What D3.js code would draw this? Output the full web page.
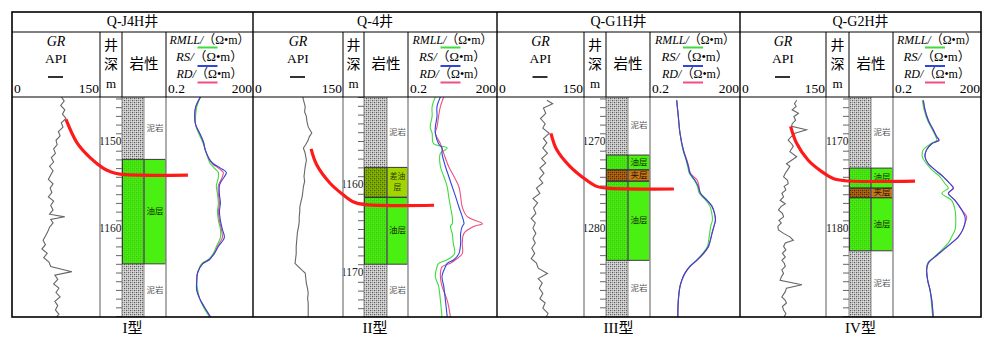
<!DOCTYPE html>
<html><head><meta charset="utf-8">
<script src="https://cdn.jsdelivr.net/npm/d3@7"></script>
<style>body{margin:0;background:#fff}svg{display:block}</style>
</head><body><svg id="c" width="1000" height="356"></svg>
<script>
// ---------------- DATA ----------------
const wellNames = ["Q-J4H井", "Q-4井", "Q-G1H井", "Q-G2H井"];
const typeLabels = ["I型", "II型", "III型", "IV型"];
const grDomain = [0, 150];
const resDomain = [0.2, 200];
const depthRanges = [[1144.83, 1170.11], [1150, 1175], [1264.83, 1290.11], [1164.83, 1190.11]];
const depthLabelTicks = [[1150, 1160], [1160, 1170], [1270, 1280], [1170, 1180]];

// GR curves (API)
const gr1Depth = [1144.8,1145.3,1145.8,1146.3,1146.8,1147.3,1147.8,1148.3,1148.8,1149.3,1149.8,1150.3,1150.8,1151.3,1151.8,1152.3,1152.8,1153.3,1153.8,1154.3,1154.8,1155.3,1155.8,1156.3,1156.8,1157.3,1157.8,1158.3,1158.6,1158.9,1159.3,1159.8,1160.3,1160.8,1161.3,1161.8,1162.3,1162.8,1163.3,1163.8,1164.3,1164.9,1165.3,1165.8,1166.3,1166.8,1167.3,1167.8,1168.3,1168.8,1169.3,1169.8,1170.1];
const gr1Value = [84,89,83,90,86,92,84,87,79,82,75,77,71,74,67,71,64,70,66,62,70,65,68,62,71,66,70,64,90,66,70,64,61,57,53,57,51,60,54,63,66,102,73,78,71,80,75,82,73,78,74,80,76];
const gr2Depth = [1150.0,1150.3,1151.1,1151.7,1152.2,1152.8,1153.4,1154.1,1154.5,1154.9,1155.4,1155.8,1156.4,1157.2,1157.9,1158.5,1159.0,1159.6,1160.2,1160.8,1161.3,1161.9,1162.5,1163.0,1163.6,1164.2,1164.7,1165.4,1166.2,1167.0,1167.8,1168.4,1168.9,1169.3,1169.7,1170.0,1170.6,1171.2,1171.8,1172.3,1172.9,1173.4,1174.2,1175.0];
const gr2Value = [83,84,87,86,89,90,92,98,94,92,88,84,87,89,87,86,85,86,84,83,82,80,78,78,77,77,76,74,73,72,72,71,70,76,82,87,88,89,91,92,91,92,92,92];
const gr3Depth = [1265.2,1265.6,1266.1,1266.7,1267.3,1267.9,1268.4,1269.0,1269.6,1270.1,1270.7,1271.3,1271.9,1272.4,1273.0,1273.6,1274.2,1274.7,1275.3,1275.9,1276.5,1277.0,1277.6,1278.2,1278.8,1279.3,1279.9,1280.5,1281.1,1281.6,1282.2,1282.8,1283.4,1283.9,1284.5,1285.1,1285.7,1286.2,1286.8,1287.4,1288.0,1288.5,1289.1,1289.7,1290.1];
const gr3Value = [86,96,80,84,75,83,79,90,80,86,79,87,77,84,74,81,73,79,68,74,62,70,63,67,59,66,62,67,62,66,60,65,59,68,71,87,71,78,73,79,74,83,79,88,85];
const gr4Depth = [1165.2,1165.6,1165.9,1166.3,1166.7,1167.1,1167.5,1167.9,1168.2,1168.6,1169.0,1169.4,1169.8,1170.2,1170.5,1171.1,1171.7,1172.1,1172.5,1172.8,1173.2,1173.6,1174.0,1174.4,1174.8,1175.1,1175.5,1175.9,1176.3,1176.7,1177.1,1177.4,1177.8,1178.2,1178.6,1179.0,1179.3,1179.7,1180.1,1180.5,1180.9,1181.3,1181.6,1182.0,1182.4,1182.8,1183.2,1183.6,1183.9,1184.3,1184.7,1185.1,1185.5,1185.9,1186.4,1186.8,1187.2,1187.8,1188.2,1188.5,1188.9,1189.3,1189.7,1190.1];
const gr4Value = [99,95,98,91,102,94,97,91,90,116,96,89,84,90,93,87,99,90,81,87,83,79,76,83,84,77,80,73,76,70,79,72,67,74,76,68,72,66,67,76,87,93,79,76,80,74,79,73,77,79,73,76,72,70,108,81,79,73,79,81,74,76,80,77];

// Resistivity curves (Ω·m)
const res1Depth = [1144.8,1146,1147,1148,1149,1150,1151,1152,1152.5,1153,1153.5,1154,1154.5,1155,1156,1157,1158,1159,1160,1161,1162,1162.8,1163.5,1164,1165,1166,1167,1168,1169,1170.1];
const rmll1 = [3.1,2.29,2.1,2.1,2.66,3.65,4.6,5.8,6.8,9.3,12.8,12.8,11.9,10.9,11.9,12.8,11.9,12.8,15,15,10.9,8.6,5.8,3.37,2.47,2.29,2.47,2.9,3.94,6.3];
const rs1 = [3.1,2.1,1.95,2.1,2.9,3.9,4.6,6.3,8.6,15,24,20.5,16.2,13.9,13.9,15,13.9,15,17.5,20.5,12.8,9.3,6.3,3.65,2.47,2.29,2.29,2.9,4.26,6.8];
const rd1 = [3.1,2.1,1.95,2.1,2.9,3.9,4.6,6.3,8.0,12.8,18.9,17.5,15,12.8,12.8,13.9,12.8,13.9,16.2,17.5,11.9,9.3,6.3,3.65,2.47,2.29,2.29,2.9,4.26,6.8];
const res2Depth = [1150.0,1151.1,1152.2,1153.4,1154.1,1155.3,1155.8,1156.4,1157.9,1159,1160.2,1161.3,1162.5,1163.6,1164.4,1164.7,1165.5,1166.6,1167.8,1168.5,1168.9,1169.3,1170.4,1171.5,1173.1,1175];
const rmll2 = [1.67,1.3,1.3,1.12,1.3,1.46,4.2,2.47,2.47,3.2,4.2,4.7,5.4,6.2,6.2,5.4,6.2,6.7,7.4,4.2,2.15,1.9,1.67,2.15,2.47,2.8];
const rs2 = [2.47,1.9,1.9,1.67,1.67,2.15,2.8,2.8,3.65,4.7,6.2,8.0,10.4,13.5,15.4,13.5,11.9,11.9,10.4,7.0,4.2,3.65,2.8,3.2,3.65,4.2];
const rd2 = [3.2,2.47,2.15,1.9,1.67,2.47,2.8,3.2,4.7,7.0,10.4,11.9,13.5,20,65,33.7,15.4,13.5,13.5,8.0,5.4,2.8,2.47,2.8,4.2,5.4];
const res3Depth = [1265.2,1267.1,1269.0,1270.9,1272.1,1272.8,1273.6,1274.4,1275.1,1275.9,1276.7,1277.4,1278.2,1279.0,1279.7,1280.5,1281.3,1282.0,1282.8,1283.6,1284.3,1285.1,1285.9,1286.6,1288.2,1290.1];
const rmll3 = [1.55,1.76,2.0,2.5,3.2,3.6,4.1,6.0,7.6,8.8,14.5,20,23,24,21,19.5,18,16.5,11.5,7.0,4.2,2.9,2.3,2.0,1.76,1.7];
const rs3 = [1.55,1.76,2.0,2.58,3.3,3.78,4.3,6.3,8.1,9.6,16,23.5,28.5,30.5,27,23.5,20.5,17.6,12,7.2,4.3,2.9,2.28,2.0,1.76,1.68];
const rd3 = [1.55,1.76,2.0,2.6,3.4,3.9,4.5,7.5,8.6,9.6,16,23,28,30,27,23,20.5,18,12.5,7.4,4.4,2.9,2.3,2.0,1.76,1.68];
const res4Depth = [1165.2,1166.3,1167.5,1168.6,1169.4,1169.8,1170.2,1170.9,1171.7,1172.5,1173.2,1174.0,1174.8,1175.3,1175.9,1176.7,1177.8,1178.6,1179.3,1180.1,1180.9,1181.6,1182.4,1183.2,1183.9,1184.7,1185.9,1187.0,1188.2,1190.1];
const rmll4 = [2.0,2.3,3.0,4.4,5.8,6.2,3.9,2.16,2.0,2.8,4.2,8.0,11.9,15.4,9.2,20,26,27.5,27.5,26,20,15.4,9.2,5.1,3.05,2.8,3.05,3.65,4.0,4.5];
const rs4 = [2.16,2.47,3.2,4.7,6.2,7.4,4.2,2.8,2.47,3.2,5.4,10.4,17.6,22.7,15.4,26,44,57,57,47.5,33.7,20,10.4,5.4,3.2,2.8,3.05,3.65,4.2,4.7];
const rd4 = [2.16,2.47,3.2,4.7,6.2,7.4,4.2,2.8,2.47,3.2,5.4,10.4,17.6,23,15.4,26,44,65,57,47.5,33.7,20,10.4,5.4,3.2,2.8,3.05,3.65,4.2,4.7];

// Lithology intervals (m)
const lith1Top = [1144.83,1152,1164], lith1Base = [1152,1164,1170.11], lith1Name = ["泥岩","油层","泥岩"];
const lith2Top = [1150,1158,1161.4,1169], lith2Base = [1158,1161.4,1169,1175], lith2Name = ["泥岩","差油层","油层","泥岩"];
const lith3Top = [1264.83,1271.5,1273.2,1274.5,1283.6], lith3Base = [1271.5,1273.2,1274.5,1283.6,1290.11], lith3Name = ["泥岩","油层","夹层","油层","泥岩"];
const lith4Top = [1164.83,1173,1175.3,1176.4,1182.5], lith4Base = [1173,1175.3,1176.4,1182.5,1190.11], lith4Name = ["泥岩","油层","夹层","油层","泥岩"];

// Horizontal-well trajectory (fraction across panel, depth m)
const traj1Frac = [0.224,0.27,0.324,0.378,0.407,0.448,0.73], traj1Depth = [1147.4,1150.1,1151.8,1153.0,1153.4,1153.7,1153.8];
const traj2Frac = [0.238,0.261,0.316,0.369,0.41,0.451,0.742], traj2Depth = [1155.9,1157.7,1159.8,1161.1,1161.9,1162.2,1162.3];
const traj3Frac = [0.222,0.246,0.3,0.369,0.41,0.451,0.728], traj3Depth = [1269.0,1270.9,1272.8,1274.4,1275.1,1275.3,1275.4];
const traj4Frac = [0.21,0.235,0.283,0.339,0.387,0.436,0.726], traj4Depth = [1168.2,1170.15,1172.1,1173.4,1174.2,1174.45,1174.5];

// ---------------- LAYOUT / STYLE ----------------
const layout = [
  {left:12, right:253, gr:[12,100], dep:[100,122], strip:[122,144], txt:[144,166], res:[166,253]},
  {left:253, right:497, gr:[253,343], dep:[343,364], strip:[364,387], txt:[387,408], res:[408,497]},
  {left:497, right:740, gr:[497,584], dep:[584,606], strip:[606,628], txt:[628,650], res:[650,740]},
  {left:740, right:981, gr:[740,826], dep:[826,849], strip:[849,871], txt:[871,893], res:[893,981]}
];
const TOP = 12, TITLE_B = 32, HEAD_B = 97, BOT = 317;
const SERIF = "'Liberation Serif','Noto Sans CJK SC','DejaVu Serif',serif";
const CJK = "'Noto Sans CJK SC','Noto Sans CJK JP',sans-serif";
const C_RMLL = "#3ddc3d", C_RS = "#2f45dd", C_RD = "#ee4f7f", C_GR = "#666";

const wells = [
  {gr:[gr1Depth,gr1Value], res:[res1Depth,rmll1,rs1,rd1], lith:[lith1Top,lith1Base,lith1Name], traj:[traj1Frac,traj1Depth]},
  {gr:[gr2Depth,gr2Value], res:[res2Depth,rmll2,rs2,rd2], lith:[lith2Top,lith2Base,lith2Name], traj:[traj2Frac,traj2Depth]},
  {gr:[gr3Depth,gr3Value], res:[res3Depth,rmll3,rs3,rd3], lith:[lith3Top,lith3Base,lith3Name], traj:[traj3Frac,traj3Depth]},
  {gr:[gr4Depth,gr4Value], res:[res4Depth,rmll4,rs4,rd4], lith:[lith4Top,lith4Base,lith4Name], traj:[traj4Frac,traj4Depth]}
];

const svg = d3.select("#c");
const defs = svg.append("defs");
function pattern(id, bg, d1, d2) {
  const p = defs.append("pattern").attr("id", id).attr("width", 4).attr("height", 4).attr("patternUnits", "userSpaceOnUse");
  p.append("rect").attr("width", 4).attr("height", 4).attr("fill", bg);
  [[0,0,d1],[2,2,d1],[2,0,d2],[0,2,d2]].forEach(([x,y,c]) => p.append("rect").attr("x",x).attr("y",y).attr("width",1.3).attr("height",1.3).attr("fill",c));
}
pattern("pMud", "#e6e6e6", "#5a5a5a", "#8e8e8e");
pattern("pOil", "#4aee14", "#38c808", "#40d80c");
pattern("pPoor", "#8abc00", "#44600a", "#648a00");
pattern("pJia", "#bb6c12", "#4a2600", "#7a4206");

const lithStyle = {
  "泥岩": {pat:"url(#pMud)", fill:"#ffffff", box:false, color:"#555", lines:["泥岩"], size:8.5},
  "油层": {pat:"url(#pOil)", fill:"#4af012", box:true, color:"#173000", lines:["油层"], size:8.5},
  "差油层": {pat:"url(#pPoor)", fill:"#a2d400", box:true, color:"#2a3a00", lines:["差油","层"], size:7.8},
  "夹层": {pat:"url(#pJia)", fill:"#c87818", box:true, color:"#2a1200", lines:["夹层"], size:8.5}
};

function txt(g, x, y, s, o = {}) {
  return g.append("text").attr("x", x).attr("y", y).text(s)
    .attr("font-family", o.family || SERIF).attr("font-size", o.size || 13)
    .attr("text-anchor", o.anchor || "middle")
    .attr("dominant-baseline", o.base || "middle")
    .attr("font-style", o.italic ? "italic" : null)
    .attr("fill", o.fill || "#000");
}

wells.forEach((w, i) => {
  const L = layout[i];
  const g = svg.append("g");
  const y = d3.scaleLinear().domain(depthRanges[i]).range([HEAD_B, BOT]);
  const xGR = d3.scaleLinear().domain(grDomain).range(L.gr);
  const xRes = d3.scaleLog().domain(resDomain).range(L.res);
  const xFrac = d3.scaleLinear().domain([0, 1]).range([L.left, L.right]);

  const clipId = "clip" + i;
  defs.append("clipPath").attr("id", clipId).append("rect")
    .attr("x", L.left).attr("y", HEAD_B).attr("width", L.right - L.left).attr("height", BOT - HEAD_B);
  const body = g.append("g").attr("clip-path", `url(#${clipId})`);

  // lithology
  const [tops, bases, names] = w.lith;
  names.forEach((n, k) => {
    const st = lithStyle[n];
    const y0 = y(tops[k]), y1 = y(bases[k]);
    body.append("rect").attr("x", L.strip[0]).attr("y", y0).attr("width", L.strip[1] - L.strip[0]).attr("height", y1 - y0).attr("fill", st.pat);
    body.append("rect").attr("x", L.strip[1]).attr("y", y0).attr("width", L.txt[1] - L.strip[1]).attr("height", y1 - y0).attr("fill", st.fill);
  });
  [L.strip[0], L.strip[1]].forEach(x => body.append("line").attr("x1", x).attr("x2", x).attr("y1", HEAD_B).attr("y2", BOT).attr("stroke", "#8a8a8a").attr("stroke-width", 1));
  names.forEach((n, k) => {
    const st = lithStyle[n];
    const y0 = y(tops[k]), y1 = y(bases[k]);
    if (st.box) {
      body.append("rect").attr("x", L.strip[0] + 0.5).attr("y", y0).attr("width", L.txt[1] - L.strip[0] - 1).attr("height", y1 - y0)
        .attr("fill", "none").attr("stroke", "#3a3a3a").attr("stroke-width", 1);
      body.append("line").attr("x1", L.strip[1]).attr("x2", L.strip[1]).attr("y1", y0).attr("y2", y1).attr("stroke", "#3a3a3a").attr("stroke-width", 1);
    }
    const cx = (L.strip[1] + L.txt[1]) / 2, cy = (y0 + y1) / 2;
    const nl = st.lines.length;
    st.lines.forEach((s, j) => {
      txt(body, cx, cy + (j - (nl - 1) / 2) * 11.5, s, {family: CJK, size: st.size, fill: st.color});
    });
  });

  // depth ticks
  const [d0, d1] = depthRanges[i];
  const labels = depthLabelTicks[i];
  const minor = d3.range(Math.ceil(d0), d1).filter(v => !labels.includes(v));
  const ax = g.append("g").attr("transform", `translate(${L.strip[0]},0)`)
    .call(d3.axisLeft(y).tickValues(minor).tickSize(6).tickFormat(""));
  ax.select(".domain").remove();
  ax.selectAll("line").attr("stroke", "#666");
  labels.forEach(v => txt(g, L.strip[0] - 0.5, y(v), String(v), {anchor: "end", size: 11.5, fill: "#222"}));

  // GR curve
  const [gd, gv] = w.gr;
  const grPts = gd.map((d, k) => [d, gv[k]]);
  body.append("path").datum(grPts)
    .attr("d", d3.line().x(p => xGR(p[1])).y(p => y(p[0])))
    .attr("fill", "none").attr("stroke", C_GR).attr("stroke-width", 1.1);

  // resistivity curves
  const [rd, rmll, rs, rdv] = w.res;
  [[rmll, C_RMLL], [rdv, C_RD], [rs, C_RS]].forEach(([vals, col]) => {
    const pts = rd.map((d, k) => [d, vals[k]]);
    body.append("path").datum(pts)
      .attr("d", d3.line().x(p => xRes(p[1])).y(p => y(p[0])).curve(d3.curveCatmullRom.alpha(0.5)))
      .attr("fill", "none").attr("stroke", col).attr("stroke-width", 1.1);
  });

  // body separators
  [L.gr[1], L.res[0]].forEach(x => g.append("line").attr("x1", x).attr("x2", x).attr("y1", HEAD_B).attr("y2", BOT).attr("stroke", "#999").attr("stroke-width", 1.6));

  // trajectory
  const [tf, td] = w.traj;
  const tPts = tf.map((f, k) => [f, td[k]]);
  g.append("path").datum(tPts)
    .attr("d", d3.line().x(p => xFrac(p[0])).y(p => y(p[1])).curve(d3.curveCatmullRom.alpha(0.5)))
    .attr("fill", "none").attr("stroke", "#ff1a1a").attr("stroke-width", 3.2).attr("stroke-linecap", "butt");

  // header
  const hc = (a) => (a[0] + a[1]) / 2;
  txt(g, (L.left + L.right) / 2, 22.5, wellNames[i], {size: 14});
  txt(g, hc(L.gr), 43, "GR", {italic: true, size: 14});
  txt(g, hc(L.gr), 60, "API", {size: 13.5});
  g.append("line").attr("x1", hc(L.gr) - 8).attr("x2", hc(L.gr) + 7).attr("y1", 77).attr("y2", 77).attr("stroke", "#000").attr("stroke-width", 1.6);
  txt(g, L.gr[0] + 2, 90, "0", {anchor: "start", size: 13.5});
  txt(g, L.gr[1] - 1, 90, "150", {anchor: "end", size: 13.5});
  const dt = g.append("text").attr("text-anchor", "middle").attr("fill", "#000");
  [["井", 46.5, CJK, 14], ["深", 65, CJK, 14], ["m", 85, SERIF, 13]].forEach(([s, yy, fam, fs]) => {
    dt.append("tspan").attr("x", hc(L.dep)).attr("y", yy).attr("dominant-baseline", "middle")
      .attr("font-family", fam).attr("font-size", fs).text(s);
  });
  txt(g, (L.strip[0] + L.txt[1]) / 2, 65, "岩性", {family: CJK, size: 14.5});
  const rc = hc(L.res);
  const rows = [["RMLL/", 40.5, 80, C_RMLL, 47.5], ["RS/", 58, 67, C_RS, 66], ["RD/", 75, 66, C_RD, 82.5]];
  rows.forEach(([lab, yy, len, col, uy]) => {
    const t = g.append("text").attr("x", rc).attr("y", yy).attr("text-anchor", "middle").attr("dominant-baseline", "middle")
      .attr("font-family", SERIF).attr("font-size", 12.5).attr("textLength", len).attr("lengthAdjust", "spacingAndGlyphs");
    t.append("tspan").attr("font-style", "italic").text(lab);
    t.append("tspan").text("（Ω•m）");
    g.append("line").attr("x1", rc - 12).attr("x2", rc + 8).attr("y1", uy).attr("y2", uy).attr("stroke", col).attr("stroke-width", 2);
  });
  txt(g, L.res[0] + 2, 90, "0.2", {anchor: "start", size: 13.5});
  txt(g, L.res[1] - 1, 90, "200", {anchor: "end", size: 13.5});

  [L.gr[1], L.dep[1], L.txt[1]].forEach(x => g.append("line").attr("x1", x).attr("x2", x).attr("y1", TITLE_B).attr("y2", HEAD_B).attr("stroke", "#000").attr("stroke-width", 1));

  txt(g, (L.left + L.right) / 2, 330, typeLabels[i], {size: 15});
});

// frame lines
const frame = svg.append("g").attr("stroke", "#000").attr("fill", "none");
frame.append("rect").attr("x", 12).attr("y", TOP).attr("width", 981 - 12).attr("height", BOT - TOP).attr("stroke-width", 1.6);
frame.append("line").attr("x1", 12).attr("x2", 981).attr("y1", TITLE_B).attr("y2", TITLE_B).attr("stroke-width", 1);
frame.append("line").attr("x1", 12).attr("x2", 981).attr("y1", HEAD_B).attr("y2", HEAD_B).attr("stroke-width", 1.2);
layout.slice(1).forEach(L => frame.append("line").attr("x1", L.left).attr("x2", L.left).attr("y1", TOP).attr("y2", BOT).attr("stroke-width", 1.4));
</script></body></html>
